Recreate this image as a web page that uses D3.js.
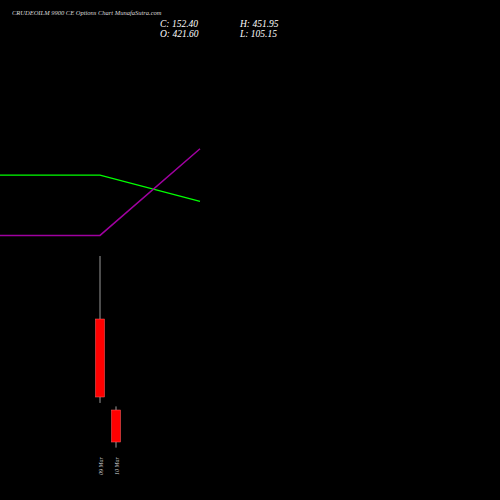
<!DOCTYPE html><html><head><script src="https://cdn.jsdelivr.net/npm/d3@7"></script>
<style>body{margin:0;background:#000}</style></head><body><script>
const dates=["09 Mar","10 Mar"];
const opens=[1187,421.6], highs=[1717,451.95], lows=[481,105.15], closes=[531,152.4];
const lineSteps=[0,1,2];
const greenVals=[147,147,116];
const purpleVals=[76,76,178];
const W=500,H=500;
const svg=d3.select("body").append("svg").attr("width",W).attr("height",H).style("background","#000");
const x=d3.scaleLinear().domain([0,1]).range([100,116]);
const y=d3.scaleLinear().domain([421.6,152.4]).range([410,442]);
const lx=d3.scaleLinear().domain([0,2]).range([0,200]);
const ly=d3.scaleLinear().domain([0,200]).range([300,130]);
const ln=d3.line().x((d,i)=>lx(lineSteps[i])).y(d=>ly(d));
svg.append("path").attr("d",ln(greenVals)).attr("fill","none").attr("stroke","#00ff00").attr("stroke-width",1.3);
svg.append("path").attr("d",ln(purpleVals)).attr("fill","none").attr("stroke","#a000a0").attr("stroke-width",1.5);
dates.forEach((d,i)=>{
  svg.append("line").attr("x1",x(i)).attr("x2",x(i)).attr("y1",y(highs[i])).attr("y2",y(lows[i])).attr("stroke","#999");
  const t=Math.min(y(opens[i]),y(closes[i])),b=Math.max(y(opens[i]),y(closes[i]));
  svg.append("rect").attr("x",x(i)-4.5).attr("width",9).attr("y",t).attr("height",b-t).attr("fill","#ff0000").attr("stroke","#ff6666").attr("stroke-width",0.5);
  svg.append("text").attr("transform",`translate(${x(i)+3},475) rotate(-90)`).attr("fill","#ccc").attr("font-size",6).attr("font-family","Liberation Serif").attr("font-style","italic").text(d);
});
svg.append("text").attr("x",12).attr("y",15).attr("fill","#ddd").attr("font-size",6.5).attr("font-family","Liberation Serif").attr("font-style","italic").text("CRUDEOILM 9900  CE Options  Chart MunafaSutra.com");
const hd=[["C: 152.40",160,27],["H: 451.95",240,27],["O: 421.60",160,37],["L: 105.15",240,37]];
hd.forEach(h=>svg.append("text").attr("x",h[1]).attr("y",h[2]).attr("fill","#fff").attr("font-size",9.5).attr("font-family","Liberation Serif").attr("font-style","italic").text(h[0]));
</script></body></html>
